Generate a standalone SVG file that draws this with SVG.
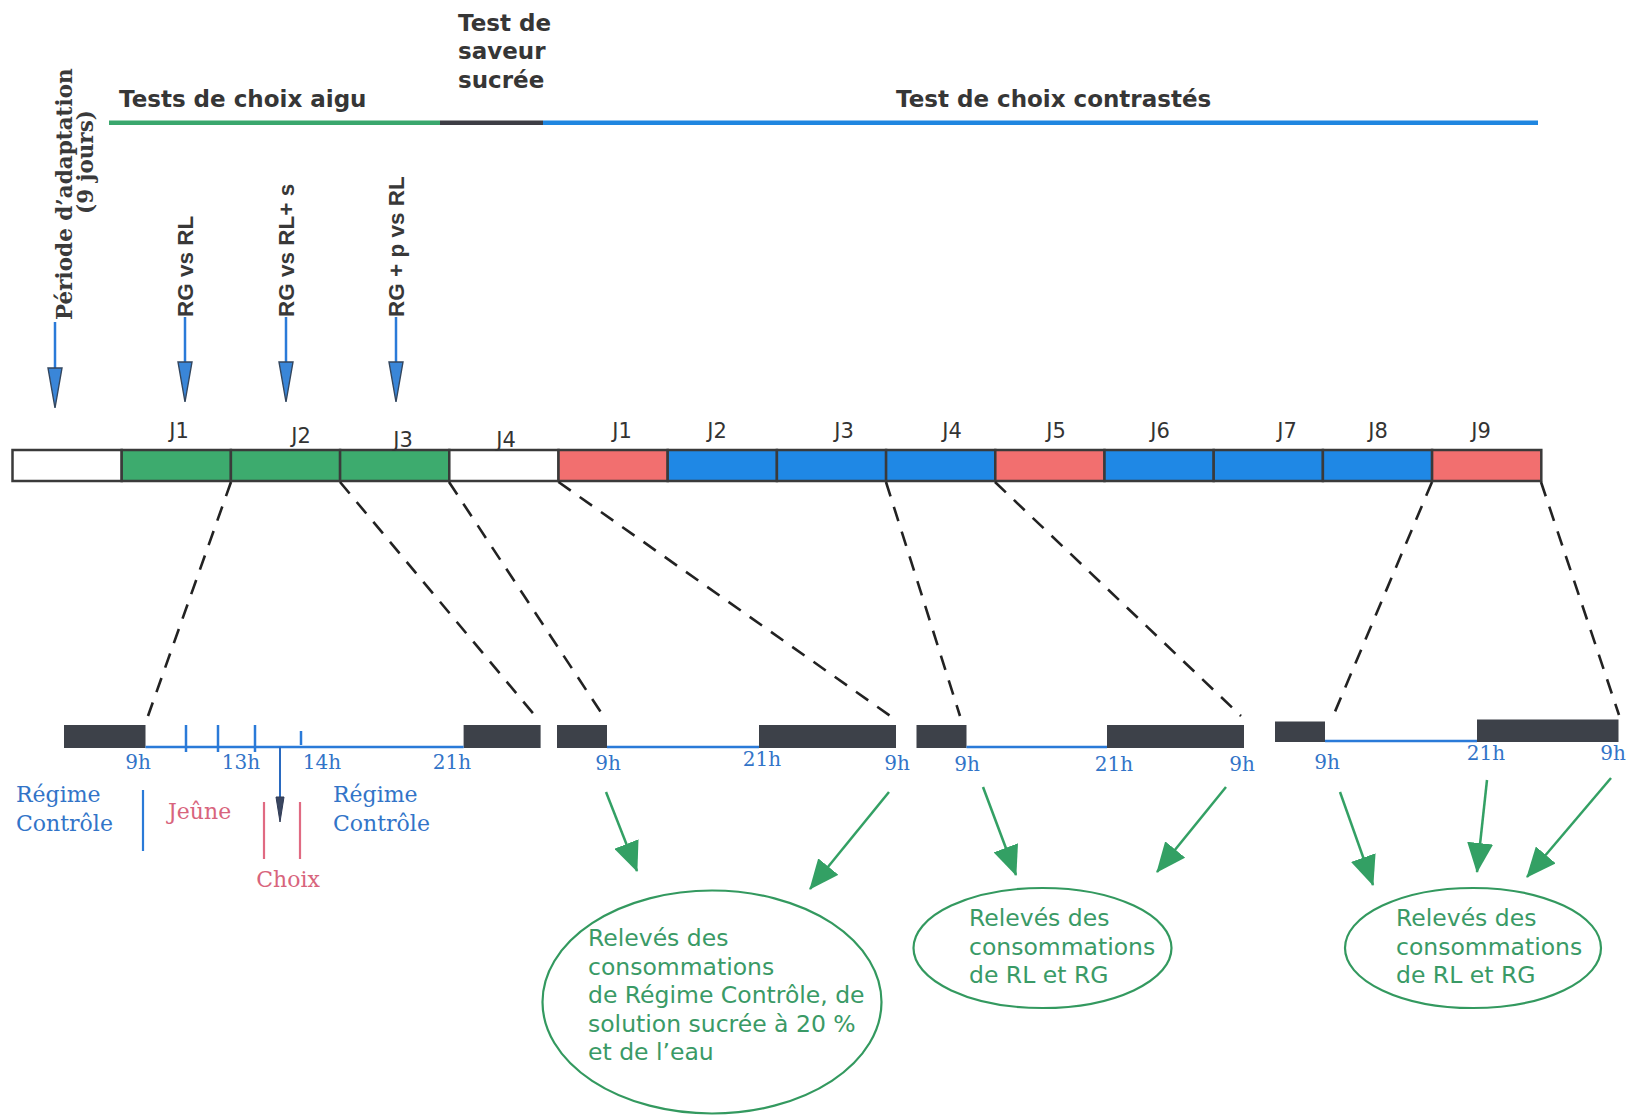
<svg xmlns="http://www.w3.org/2000/svg" xmlns:xlink="http://www.w3.org/1999/xlink" width="1630" height="1117" viewBox="0 0 1630 1117">
<style>
  .title { font-family: "DejaVu Sans", sans-serif; font-weight: bold; font-size: 23px; fill: #363636; }
  .vlab { font-family: "Liberation Sans", Arial, sans-serif; font-weight: bold; font-size: 22.5px; fill: #383838; }
  .per { font-family: "DejaVu Serif", serif; font-weight: bold; font-size: 21.5px; fill: #3a3a3a; }
  .jl { font-family: "DejaVu Sans", sans-serif; font-size: 21px; fill: #333; text-anchor: middle; }
  .hr { font-family: "DejaVu Serif", serif; font-size: 20px; fill: #3274c8; text-anchor: middle; }
  .sb { font-family: "DejaVu Serif", serif; font-size: 22px; fill: #3274c8; }
  .sr { font-family: "DejaVu Serif", serif; font-size: 22px; fill: #d8647c; }
  .el { font-family: "DejaVu Sans", sans-serif; font-size: 23.5px; fill: #3a9a66; }
  .seg { stroke: #3a3a3a; stroke-width: 2.5; }
  .dark { fill: #3d4149; }
  .bl { stroke: #2a7ad8; stroke-width: 2.5; fill: none; }
  .dash { stroke: #222; stroke-width: 2.6; stroke-dasharray: 15 11; fill: none; }
  .garr { stroke: #33a064; stroke-width: 2.5; fill: none; marker-end: url(#gh); }
  .ell { fill: none; stroke: #33995f; stroke-width: 2.2; }
  .bhead { fill: #3a86d8; stroke: #33465e; stroke-width: 1.4; }
</style>
<defs>
  <marker id="gh" viewBox="0 0 30 26" refX="29" refY="13" markerWidth="30" markerHeight="26" markerUnits="userSpaceOnUse" orient="auto">
    <path d="M0,0 L30,13 L0,26 Z" fill="#33a064"/>
  </marker>
  <path id="vhead" class="bhead" d="M-7,0 L7,0 L0,40 Z"/>
</defs>
<rect width="1630" height="1117" fill="#ffffff"/>

<g id="titles">
  <text class="title" x="458" y="31">Test de</text>
  <text class="title" x="458" y="59">saveur</text>
  <text class="title" x="458" y="88">sucrée</text>
  <text class="title" x="119" y="107">Tests de choix aigu</text>
  <text class="title" x="896" y="107">Test de choix contrastés</text>
</g>

<g id="phase-line">
  <line x1="109" y1="122.7" x2="440" y2="122.7" stroke="#3aa76d" stroke-width="4.5"/>
  <line x1="440" y1="122.7" x2="543" y2="122.7" stroke="#3d3d45" stroke-width="4.5"/>
  <line x1="543" y1="122.7" x2="1538" y2="122.7" stroke="#1f86e0" stroke-width="4.5"/>
</g>

<g id="adaptation">
  <text class="per" transform="rotate(-90)" x="-320" y="72">Période d’adaptation</text>
  <text class="per" transform="rotate(-90)" x="-214" y="93">(9 jours)</text>
  <line class="bl" x1="55" y1="322" x2="55" y2="368"/>
  <use xlink:href="#vhead" x="55" y="368"/>
</g>
<g id="test1">
  <text class="vlab" transform="translate(185,317) rotate(-90)" x="0" y="8">RG vs RL</text>
  <line class="bl" x1="185" y1="317" x2="185" y2="362"/>
  <use xlink:href="#vhead" x="185" y="362"/>
</g>
<g id="test2">
  <text class="vlab" transform="translate(286,317) rotate(-90)" x="0" y="8">RG vs RL+ s</text>
  <line class="bl" x1="286" y1="317" x2="286" y2="362"/>
  <use xlink:href="#vhead" x="286" y="362"/>
</g>
<g id="test3">
  <text class="vlab" transform="translate(396,317) rotate(-90)" x="0" y="8">RG + p vs RL</text>
  <line class="bl" x1="396" y1="317" x2="396" y2="362"/>
  <use xlink:href="#vhead" x="396" y="362"/>
</g>

<g id="day-bar">
  <rect class="seg" x="12.5" y="450" width="109.2" height="31" fill="#ffffff"/>
  <rect class="seg" x="121.7" y="450" width="109.2" height="31" fill="#3dab6e"/>
  <rect class="seg" x="230.9" y="450" width="109.2" height="31" fill="#3dab6e"/>
  <rect class="seg" x="340.1" y="450" width="109.2" height="31" fill="#3dab6e"/>
  <rect class="seg" x="449.3" y="450" width="109.2" height="31" fill="#ffffff"/>
  <rect class="seg" x="558.5" y="450" width="109.2" height="31" fill="#f26f6f"/>
  <rect class="seg" x="667.7" y="450" width="109.2" height="31" fill="#1f88e5"/>
  <rect class="seg" x="776.9" y="450" width="109.2" height="31" fill="#1f88e5"/>
  <rect class="seg" x="886.1" y="450" width="109.2" height="31" fill="#1f88e5"/>
  <rect class="seg" x="995.3" y="450" width="109.2" height="31" fill="#f26f6f"/>
  <rect class="seg" x="1104.5" y="450" width="109.2" height="31" fill="#1f88e5"/>
  <rect class="seg" x="1213.7" y="450" width="109.2" height="31" fill="#1f88e5"/>
  <rect class="seg" x="1322.9" y="450" width="109.2" height="31" fill="#1f88e5"/>
  <rect class="seg" x="1432.1" y="450" width="109.2" height="31" fill="#f26f6f"/>
  <text class="jl" x="179" y="438">J1</text>
  <text class="jl" x="301" y="443">J2</text>
  <text class="jl" x="403" y="447">J3</text>
  <text class="jl" x="506" y="447">J4</text>
  <text class="jl" x="622" y="438">J1</text>
  <text class="jl" x="717" y="438">J2</text>
  <text class="jl" x="844" y="438">J3</text>
  <text class="jl" x="952" y="438">J4</text>
  <text class="jl" x="1056" y="438">J5</text>
  <text class="jl" x="1160" y="438">J6</text>
  <text class="jl" x="1287" y="438">J7</text>
  <text class="jl" x="1378" y="438">J8</text>
  <text class="jl" x="1481" y="438">J9</text>
</g>

<g id="connectors">
  <line class="dash" x1="231" y1="482" x2="148" y2="716"/>
  <line class="dash" x1="340" y1="482" x2="537" y2="718"/>
  <line class="dash" x1="449" y1="482" x2="606" y2="720"/>
  <line class="dash" x1="558.5" y1="482" x2="896" y2="720"/>
  <line class="dash" x1="886" y1="482" x2="960" y2="716"/>
  <line class="dash" x1="995" y1="482" x2="1241" y2="716"/>
  <line class="dash" x1="1432" y1="482" x2="1334" y2="714"/>
  <line class="dash" x1="1541" y1="482" x2="1619" y2="715"/>
  <line class="garr" x1="606" y1="792" x2="637" y2="871"/>
  <line class="garr" x1="889" y1="792" x2="810" y2="889"/>
  <line class="garr" x1="983" y1="787" x2="1016" y2="875"/>
  <line class="garr" x1="1226" y1="787" x2="1157" y2="872"/>
  <line class="garr" x1="1340" y1="792" x2="1373" y2="885"/>
  <line class="garr" x1="1487" y1="780" x2="1477" y2="872"/>
  <line class="garr" x1="1611" y1="778" x2="1527" y2="877"/>
</g>

<g id="day-detail-1">
  <rect class="dark" x="64" y="725" width="81.5" height="23"/>
  <rect class="dark" x="463.6" y="725" width="77" height="23"/>
  <line class="bl" x1="145.5" y1="747" x2="463.6" y2="747"/>
  <line class="bl" x1="186" y1="725" x2="186" y2="752"/>
  <line class="bl" x1="218" y1="725" x2="218" y2="752"/>
  <line class="bl" x1="255" y1="725" x2="255" y2="752"/>
  <line class="bl" x1="301" y1="731" x2="301" y2="745"/>
  <line x1="280" y1="747" x2="280" y2="798" stroke="#2a6ac0" stroke-width="2"/>
  <path d="M276,797 L284,797 L280,822 Z" fill="#3a4660" stroke="#2e3a55" stroke-width="1"/>
  <text class="hr" x="138" y="769">9h</text>
  <text class="hr" x="241" y="769">13h</text>
  <text class="hr" x="322" y="769">14h</text>
  <text class="hr" x="452" y="769">21h</text>
  <text class="sb" x="16" y="802">Régime</text>
  <text class="sb" x="16" y="831">Contrôle</text>
  <line x1="143" y1="790" x2="143" y2="851" stroke="#2a7ad8" stroke-width="2.2"/>
  <text class="sr" x="168" y="819">Jeûne</text>
  <line x1="264" y1="802" x2="264" y2="859" stroke="#e06a82" stroke-width="2.2"/>
  <line x1="300" y1="802" x2="300" y2="859" stroke="#e06a82" stroke-width="2.2"/>
  <text class="sr" x="288" y="887" text-anchor="middle">Choix</text>
  <text class="sb" x="333" y="802">Régime</text>
  <text class="sb" x="333" y="831">Contrôle</text>
</g>

<g id="day-detail-2">
  <rect class="dark" x="557" y="725" width="50" height="23"/>
  <rect class="dark" x="759" y="725" width="137" height="23"/>
  <line class="bl" x1="607" y1="747" x2="759" y2="747"/>
  <text class="hr" x="608" y="770">9h</text>
  <text class="hr" x="762" y="766">21h</text>
  <text class="hr" x="897" y="770">9h</text>
</g>

<g id="day-detail-3">
  <rect class="dark" x="916.5" y="725" width="50" height="23"/>
  <rect class="dark" x="1107" y="725" width="137" height="23"/>
  <line class="bl" x1="966.5" y1="747" x2="1107" y2="747"/>
  <text class="hr" x="967" y="771">9h</text>
  <text class="hr" x="1114" y="771">21h</text>
  <text class="hr" x="1242" y="771">9h</text>
</g>

<g id="day-detail-4">
  <rect class="dark" x="1275" y="721.5" width="50" height="20.5"/>
  <rect class="dark" x="1477" y="719.5" width="141.5" height="22.5"/>
  <line class="bl" x1="1325" y1="741" x2="1477" y2="741"/>
  <text class="hr" x="1327" y="769">9h</text>
  <text class="hr" x="1486" y="760">21h</text>
  <text class="hr" x="1613" y="760">9h</text>
</g>

<g id="releve-1">
  <ellipse class="ell" cx="712" cy="1002" rx="169.5" ry="111.5"/>
  <text class="el" x="588" y="946">Relevés des</text>
  <text class="el" x="588" y="975">consommations</text>
  <text class="el" x="588" y="1003">de Régime Contrôle, de</text>
  <text class="el" x="588" y="1032">solution sucrée à 20 %</text>
  <text class="el" x="588" y="1060">et de l’eau</text>
</g>
<g id="releve-2">
  <ellipse class="ell" cx="1042.5" cy="948" rx="129" ry="60"/>
  <text class="el" x="969" y="926">Relevés des</text>
  <text class="el" x="969" y="955">consommations</text>
  <text class="el" x="969" y="983">de RL et RG</text>
</g>
<g id="releve-3">
  <ellipse class="ell" cx="1473" cy="948" rx="128" ry="60"/>
  <text class="el" x="1396" y="926">Relevés des</text>
  <text class="el" x="1396" y="955">consommations</text>
  <text class="el" x="1396" y="983">de RL et RG</text>
</g>
</svg>
